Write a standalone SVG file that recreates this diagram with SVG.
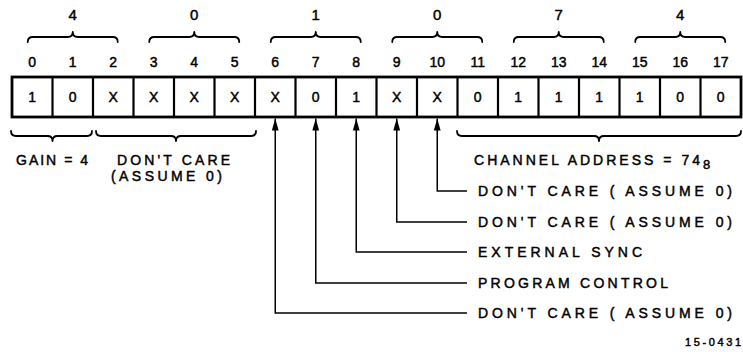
<svg xmlns="http://www.w3.org/2000/svg" width="743" height="352" viewBox="0 0 743 352">
<style>
text{font-family:"Liberation Sans",Arial,sans-serif;fill:#000;stroke:#000;stroke-width:0.45}
.oct{font-size:15px;text-anchor:middle}
.bit{font-size:14px;text-anchor:middle}
.val{font-size:14px;text-anchor:middle}
.lab{font-size:14px}
.brace{fill:none;stroke:#000;stroke-width:1.8;stroke-linejoin:round;stroke-linecap:round}
.div{stroke:#000;stroke-width:2.2}
.lead{fill:none;stroke:#000;stroke-width:1.5}
</style>
<defs>
<marker id="ah" markerUnits="userSpaceOnUse" markerWidth="12" markerHeight="8" viewBox="0 0 12 8" refX="12" refY="4" orient="auto">
<path d="M0,0.6 L12,4 L0,7.4 Z" fill="#000"/>
</marker>
</defs>
<rect width="743" height="352" fill="#fff"/>

<g id="octal-digits">
<text class="oct" x="72.75" y="20">4</text>
<text class="oct" x="194.25" y="20">0</text>
<text class="oct" x="315.75" y="20">1</text>
<text class="oct" x="437.25" y="20">0</text>
<text class="oct" x="558.75" y="20">7</text>
<text class="oct" x="680.25" y="20">4</text>
</g>

<g id="top-braces">
<path class="brace" d="M27.75,42 Q27.75,37 32.75,37 L67.75,37 Q72.75,37 72.75,32 Q72.75,37 77.75,37 L112.75,37 Q117.75,37 117.75,42"/>
<path class="brace" d="M149.25,42 Q149.25,37 154.25,37 L189.25,37 Q194.25,37 194.25,32 Q194.25,37 199.25,37 L234.25,37 Q239.25,37 239.25,42"/>
<path class="brace" d="M270.75,42 Q270.75,37 275.75,37 L310.75,37 Q315.75,37 315.75,32 Q315.75,37 320.75,37 L355.75,37 Q360.75,37 360.75,42"/>
<path class="brace" d="M392.25,42 Q392.25,37 397.25,37 L432.25,37 Q437.25,37 437.25,32 Q437.25,37 442.25,37 L477.25,37 Q482.25,37 482.25,42"/>
<path class="brace" d="M513.75,42 Q513.75,37 518.75,37 L553.75,37 Q558.75,37 558.75,32 Q558.75,37 563.75,37 L598.75,37 Q603.75,37 603.75,42"/>
<path class="brace" d="M635.25,42 Q635.25,37 640.25,37 L675.25,37 Q680.25,37 680.25,32 Q680.25,37 685.25,37 L720.25,37 Q725.25,37 725.25,42"/>
</g>

<g id="bit-numbers">
<text class="bit" x="32.25" y="67">0</text>
<text class="bit" x="72.75" y="67">1</text>
<text class="bit" x="113.25" y="67">2</text>
<text class="bit" x="153.75" y="67">3</text>
<text class="bit" x="194.25" y="67">4</text>
<text class="bit" x="234.75" y="67">5</text>
<text class="bit" x="275.25" y="67">6</text>
<text class="bit" x="315.75" y="67">7</text>
<text class="bit" x="356.25" y="67">8</text>
<text class="bit" x="396.75" y="67">9</text>
<text class="bit" x="437.25" y="67">10</text>
<text class="bit" x="477.75" y="67">11</text>
<text class="bit" x="518.25" y="67">12</text>
<text class="bit" x="558.75" y="67">13</text>
<text class="bit" x="599.25" y="67">14</text>
<text class="bit" x="639.75" y="67">15</text>
<text class="bit" x="680.25" y="67">16</text>
<text class="bit" x="720.75" y="67">17</text>
</g>

<g id="register">
<rect x="12" y="77" width="729" height="40" fill="none" stroke="#000" stroke-width="2.8"/>
<path class="div" d="M52.5,77V117 M93,77V117 M133.5,77V117 M174,77V117 M214.5,77V117 M255,77V117 M295.5,77V117 M336,77V117 M376.5,77V117 M417,77V117 M457.5,77V117 M498,77V117 M538.5,77V117 M579,77V117 M619.5,77V117 M660,77V117 M700.5,77V117"/>
<text class="val" x="32.25" y="102">1</text>
<text class="val" x="72.75" y="102">0</text>
<text class="val" x="113.25" y="102">X</text>
<text class="val" x="153.75" y="102">X</text>
<text class="val" x="194.25" y="102">X</text>
<text class="val" x="234.75" y="102">X</text>
<text class="val" x="275.25" y="102">X</text>
<text class="val" x="315.75" y="102">0</text>
<text class="val" x="356.25" y="102">1</text>
<text class="val" x="396.75" y="102">X</text>
<text class="val" x="437.25" y="102">X</text>
<text class="val" x="477.75" y="102">0</text>
<text class="val" x="518.25" y="102">1</text>
<text class="val" x="558.75" y="102">1</text>
<text class="val" x="599.25" y="102">1</text>
<text class="val" x="639.75" y="102">1</text>
<text class="val" x="680.25" y="102">0</text>
<text class="val" x="720.75" y="102">0</text>
</g>

<g id="bottom-braces">
<path class="brace" d="M11,131 Q11,136 16,136 L47.5,136 Q52.5,136 52.5,141 Q52.5,136 57.5,136 L87,136 Q92,136 92,131"/>
<path class="brace" d="M96,131 Q96,136 101,136 L171,136 Q176,136 176,141 Q176,136 181,136 L251,136 Q256,136 256,131"/>
<path class="brace" d="M457,131 Q457,136 462,136 L594,136 Q599,136 599,141 Q599,136 604,136 L736,136 Q741,136 741,131"/>
</g>

<g id="gain-label">
<text class="lab" x="16" y="165" textLength="72" lengthAdjust="spacing">GAIN = 4</text>
</g>
<g id="dont-care-label">
<text class="lab" x="117" y="165" textLength="113" lengthAdjust="spacing">DON'T CARE</text>
<text class="lab" x="111" y="181" textLength="111" lengthAdjust="spacing">(ASSUME 0)</text>
</g>
<g id="channel-address-label">
<text class="lab" x="474" y="165" textLength="226" lengthAdjust="spacing">CHANNEL ADDRESS = 74</text>
<text x="703" y="169" font-size="13">8</text>
</g>

<g id="connectors">
<path class="lead" d="M467,191 H437.25 V118.5" marker-end="url(#ah)"/>
<path class="lead" d="M467,222 H396.75 V118.5" marker-end="url(#ah)"/>
<path class="lead" d="M467,252 H356.25 V118.5" marker-end="url(#ah)"/>
<path class="lead" d="M467,283 H315.75 V118.5" marker-end="url(#ah)"/>
<path class="lead" d="M467,313 H275.25 V118.5" marker-end="url(#ah)"/>
</g>

<g id="bit10-label"><text class="lab" x="478" y="196" textLength="254" lengthAdjust="spacing">DON'T CARE ( ASSUME 0)</text></g>
<g id="bit9-label"><text class="lab" x="478" y="227" textLength="254" lengthAdjust="spacing">DON'T CARE ( ASSUME 0)</text></g>
<g id="bit8-label"><text class="lab" x="478" y="257" textLength="164" lengthAdjust="spacing">EXTERNAL SYNC</text></g>
<g id="bit7-label"><text class="lab" x="478" y="288" textLength="190" lengthAdjust="spacing">PROGRAM CONTROL</text></g>
<g id="bit6-label"><text class="lab" x="478" y="318" textLength="254" lengthAdjust="spacing">DON'T CARE ( ASSUME 0)</text></g>

<g id="figure-number"><text x="685" y="346" font-size="11" textLength="56" lengthAdjust="spacing">15-0431</text></g>
</svg>
